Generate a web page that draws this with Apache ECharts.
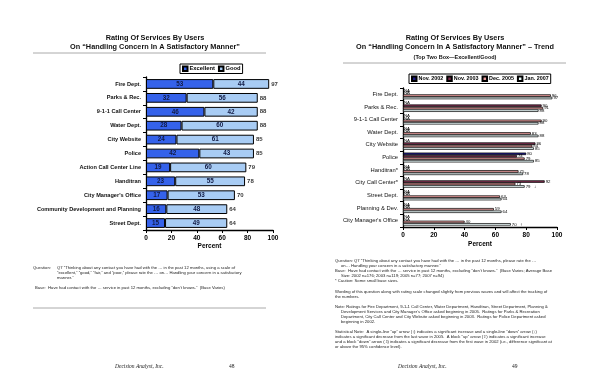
<!DOCTYPE html>
<html><head><meta charset="utf-8">
<script src="https://cdn.jsdelivr.net/npm/echarts@6/dist/echarts.min.js"></script>
<style>html,body{margin:0;padding:0;background:#fff}#c{width:600px;height:388px}</style>
</head><body><div id="c"></div>
<script>
const leftCats = ['Fire Dept.','Parks & Rec.','9-1-1 Call Center','Water Dept.','City Website','Police','Action Call Center Line','Handitran',"City Manager's Office",'Community Development and Planning','Street Dept.'];
const excellent = [53,32,46,28,24,42,19,23,17,16,15];
const good = [44,56,42,60,61,43,60,55,53,48,49];
const totals = [97,88,88,88,85,85,79,78,70,64,64];

const rightCats = ['Fire Dept.','Parks & Rec.','9-1-1 Call Center','Water Dept.','City Website','Police','Handitran*','City Call Center*','Street Dept.','Planning & Dev.',"City Manager's Office"];
const nov2002 = [null,null,null,null,null,80,null,null,null,null,null];
const nov2003 = [null,90,null,null,86,74,null,92,null,null,null];
const dec2005 = [96,91,90,83,84,79,75,73,63,59,40];
const jan2007 = [97,88,88,88,85,85,78,79,64,64,70];
const jan2007Arrows = ['','','','','','','','\u2193','','','\u2191'];
const xTicks = [0,20,40,60,80,100];

const F = '"Liberation Sans", Arial, sans-serif';
const chart = echarts.init(document.getElementById('c'));

function naData(arr, extra){
  return arr.map((v,i)=> v==null
    ? {value:0, itemStyle:{borderWidth:0, color:'rgba(0,0,0,0)'}, label:{show:true, formatter:'NA'}}
    : {value:v, label:{show:true, formatter: v + (extra ? (extra[i]? '   '+extra[i] : '') : '')}});
}
const rLabel = {show:true, position:'right', distance:1, fontSize:4.3, color:'#000', fontFamily:F};
const rSeries = [
  ['Nov. 2002', nov2002, '#1c1a86', null],
  ['Nov. 2003', nov2003, '#7a2c4c', null],
  ['Dec. 2005', dec2005, '#e89c9c', null],
  ['Jan. 2007', jan2007, '#ecfcfc', jan2007Arrows]
].map(([n,arr,col,ex])=>({
  name:n, type:'bar', xAxisIndex:1, yAxisIndex:1, barGap:'0%', barCategoryGap:'22%',
  itemStyle:{color:col, borderColor:'#000', borderWidth:0.7},
  label:rLabel, data:naData(arr, ex), animation:false
}));

function txt(x,y,t,o){return {type:'text', left:x, top:y, style:Object.assign({text:t, fill:'#222', font:'4.2px '+F}, o||{})};}

const notesL = [
  [33,266,'Question:'],
  [57,266,'Q7 \u201cThinking about any contact you have had with the \u2026 in the past 12 months, using a scale of'],
  [57,271,'\u201cexcellent,\u201d \u201cgood,\u201d \u201cfair,\u201d and \u201cpoor,\u201d please rate the \u2026 on\u2026 Handling your concern in a satisfactory'],
  [57,276,'manner.\u201d'],
  [35,286,'Base:  Have had contact with the \u2026 service in past 12 months, excluding \u201cdon\u2019t knows.\u201d  (Base Varies)']
];
const notesR = [
  [335,259,'Question: Q7 \u201cThinking about any contact you have had with the \u2026 in the past 12 months, please rate the \u2026'],
  [341,264,'on\u2026 Handling your concern in a satisfactory manner.\u201d'],
  [335,269,'Base:  Have had contact with the \u2026 service in past 12 months, excluding \u201cdon\u2019t knows.\u201d  (Base Varies; Average Base'],
  [341,274,'Size: 2002 n=176; 2003 n=119; 2005 n=77; 2007 n=94)'],
  [335,279,'* Caution: Some small base sizes.'],
  [335,290,'Wording of this question along with rating scale changed slightly from previous waves and will affect the tracking of'],
  [335,295,'the numbers.'],
  [335,305,'Note: Ratings for Fire Department, 9-1-1 Call Center, Water Department, Handitran, Street Department, Planning &'],
  [341,310,'Development Services and City Manager\u2019s Office asked beginning in 2005.  Ratings for Parks & Recreation'],
  [341,315,'Department, City Call Center and City Website asked beginning in 2003.  Ratings for Police Department asked'],
  [341,320,'beginning in 2002.'],
  [335,330,'Statistical Note:  A single-line \u201cup\u201d arrow (\u2191) indicates a significant increase and a single-line \u201cdown\u201d arrow (\u2193)'],
  [335,335,'indicates a significant decrease from the last wave in 2005.  A block \u201cup\u201d arrow (\u21e7) indicates a significant increase'],
  [335,340,'and a block \u201cdown\u201d arrow (\u21e9) indicates a significant decrease from the first wave in 2002 (i.e., difference significant at'],
  [335,345,'or above the 95% confidence level).']
];

const graphics = [
  {type:'line', shape:{x1:33,y1:53,x2:266,y2:53}, style:{stroke:'#aaa', lineWidth:1}},
  {type:'line', shape:{x1:33,y1:308,x2:266,y2:308}, style:{stroke:'#aaa', lineWidth:1}},
  {type:'line', shape:{x1:343,y1:63,x2:566,y2:63}, style:{stroke:'#aaa', lineWidth:1}},
  {type:'text', left:115, top:364, style:{text:'Decision Analyst, Inc.', fill:'#222', font:'italic 5.5px "Liberation Serif", serif'}},
  {type:'text', left:229, top:364, style:{text:'48', fill:'#222', font:'5.5px "Liberation Serif", serif'}},
  {type:'text', left:398, top:364, style:{text:'Decision Analyst, Inc.', fill:'#222', font:'italic 5.5px "Liberation Serif", serif'}},
  {type:'text', left:512, top:364, style:{text:'49', fill:'#222', font:'5.5px "Liberation Serif", serif'}}
].concat(notesL.map(a=>txt(a[0],a[1],a[2])), notesR.map(a=>txt(a[0],a[1],a[2])));

const axisLbl = {fontSize:6.5, fontWeight:'bold', color:'#000', fontFamily:F};
chart.setOption({
  animation:false,
  textStyle:{fontFamily:F},
  title:[
    {text:'Rating Of Services By Users\nOn \u201cHandling Concern In A Satisfactory Manner\u201d', left:150, top:28, textAlign:'center',
     textStyle:{fontSize:7.3, fontWeight:'bold', color:'#111', lineHeight:9.5, fontFamily:F}},
    {text:'Rating Of Services By Users\nOn \u201cHandling Concern In A Satisfactory Manner\u201d \u2013 Trend', left:450, top:28, textAlign:'center',
     textStyle:{fontSize:7.3, fontWeight:'bold', color:'#111', lineHeight:9.5, fontFamily:F},
     subtext:'(Top Two Box\u2014Excellent/Good)', itemGap:2,
     subtextStyle:{fontSize:5.5, fontWeight:'bold', color:'#111', fontFamily:F}}
  ],
  legend:[
    {data:['Excellent','Good'], left:180, top:64, icon:'rect', itemWidth:4.5, itemHeight:4.5, itemGap:3, padding:[1.5,2],
     borderColor:'#000', borderWidth:1, textStyle:{fontSize:5.8, fontWeight:'bold', color:'#000', padding:[0,0,0,-3]}},
    {data:['Nov. 2002','Nov. 2003','Dec. 2005','Jan. 2007'], left:409, top:74, icon:'rect', itemWidth:4.5, itemHeight:4.5, itemGap:3, padding:[1.5,2],
     borderColor:'#000', borderWidth:1, textStyle:{fontSize:5.4, fontWeight:'bold', color:'#000', padding:[0,0,0,-3]}}
  ],
  grid:[
    {left:146, right:327, top:77, bottom:158},
    {left:403, right:43, top:88, bottom:161}
  ],
  xAxis:[
    {type:'value', gridIndex:0, min:0, max:100, interval:20, name:'Percent', nameLocation:'middle', nameGap:12,
     nameTextStyle:{fontSize:6.5, fontWeight:'bold', color:'#000'},
     axisLine:{show:true, lineStyle:{color:'#000', width:1.3}}, axisTick:{show:true, length:3, lineStyle:{color:'#000'}},
     splitLine:{show:false}, axisLabel:Object.assign({margin:5}, axisLbl)},
    {type:'value', gridIndex:1, min:0, max:100, interval:20, name:'Percent', nameLocation:'middle', nameGap:14,
     nameTextStyle:{fontSize:6.5, fontWeight:'bold', color:'#000'},
     axisLine:{show:true, lineStyle:{color:'#000', width:1.3}}, axisTick:{show:true, length:3, lineStyle:{color:'#000'}},
     splitLine:{show:false}, axisLabel:Object.assign({margin:5}, axisLbl)}
  ],
  yAxis:[
    {type:'category', gridIndex:0, data:leftCats, inverse:true,
     axisLine:{lineStyle:{color:'#000', width:1.3}}, axisTick:{show:true, length:3, lineStyle:{color:'#000'}},
     axisLabel:{fontSize:5.6, fontWeight:'bold', color:'#111', margin:5}},
    {type:'category', gridIndex:1, data:rightCats, inverse:true,
     axisLine:{lineStyle:{color:'#000', width:1.3}}, axisTick:{show:true, length:3, lineStyle:{color:'#000'}},
     axisLabel:{fontSize:5.8, color:'#111', margin:5}}
  ],
  series:[
    {name:'Excellent', type:'bar', stack:'L', xAxisIndex:0, yAxisIndex:0, barCategoryGap:'30%', data:excellent,
     itemStyle:{color:'#3562ea', borderColor:'#000', borderWidth:1},
     label:{show:true, position:'inside', fontSize:6.3, fontWeight:'bold', color:'#111a44'}},
    {name:'Good', type:'bar', stack:'L', xAxisIndex:0, yAxisIndex:0, barCategoryGap:'30%', data:good,
     itemStyle:{color:'#a8ccf4', borderColor:'#000', borderWidth:1},
     label:{show:true, position:'inside', fontSize:6.3, fontWeight:'bold', color:'#111a44'}},
    {name:'Total', type:'scatter', xAxisIndex:0, yAxisIndex:0, data:totals, symbolSize:0,
     label:{show:true, position:'right', distance:2, fontSize:6, fontWeight:'bold', color:'#000'}},
    ...rSeries
  ],
  graphic:graphics
});
</script></body></html>
